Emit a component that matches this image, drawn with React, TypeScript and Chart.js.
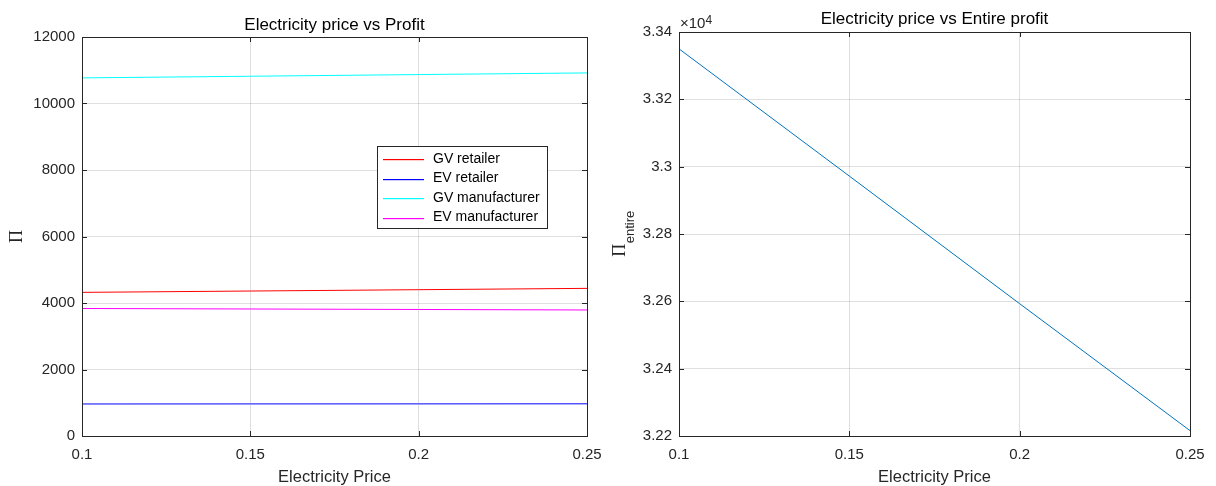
import React, { useEffect, useRef } from "react";
import { Chart, registerables } from "chart.js";

Chart.register(...registerables);

// ---------- data ----------
const electricityPrice = [0.1, 0.15, 0.2, 0.25];
const gvRetailer = [4320, 4360, 4400, 4440];
const evRetailer = [963, 965, 966, 968];
const gvManufacturer = [10770, 10820, 10870, 10920];
const evManufacturer = [3835, 3820, 3805, 3790];
const entireProfit = [33350, 32972, 32593, 32216];

const priceTicks = [0.1, 0.15, 0.2, 0.25];
const profitTicks = [0, 2000, 4000, 6000, 8000, 10000, 12000];
const entireTicks = [32200, 32400, 32600, 32800, 33000, 33200, 33400];

const seriesLabels = ["GV retailer", "EV retailer", "GV manufacturer", "EV manufacturer"];

// ---------- style ----------
const TEXT = "#262626";
const SANS = "'Liberation Sans', Arial, Helvetica, sans-serif";
const SERIF = "'Liberation Serif', 'Times New Roman', serif";
const H = 486;

const pts = (ys: number[]) => electricityPrice.map((x, i) => ({ x, y: ys[i] }));

const matlabPlugin = {
  id: "matlab",
  afterDraw(chart: any, _args: any, opts: any) {
    const { ctx, chartArea: a } = chart;
    const xs = chart.scales.x;
    const ys = chart.scales.y;
    ctx.save();
    ctx.strokeStyle = TEXT;
    ctx.lineWidth = 1;
    // inward tick marks on all four sides
    ctx.beginPath();
    xs.ticks.forEach((t: any) => {
      const px = Math.round(xs.getPixelForValue(t.value)) + 0.5;
      ctx.moveTo(px, a.bottom);
      ctx.lineTo(px, a.bottom - 5);
      ctx.moveTo(px, a.top);
      ctx.lineTo(px, a.top + 5);
    });
    ys.ticks.forEach((t: any) => {
      const py = Math.round(ys.getPixelForValue(t.value)) + 0.5;
      ctx.moveTo(a.left, py);
      ctx.lineTo(a.left + 5, py);
      ctx.moveTo(a.right, py);
      ctx.lineTo(a.right - 5, py);
    });
    ctx.stroke();
    // box
    ctx.strokeRect(
      Math.round(a.left) + 0.5,
      Math.round(a.top) + 0.5,
      Math.round(a.right - a.left),
      Math.round(a.bottom - a.top)
    );

    const cx = (a.left + a.right) / 2;
    const cy = (a.top + a.bottom) / 2;

    // title
    ctx.fillStyle = "#000";
    ctx.font = `17px ${SANS}`;
    ctx.textAlign = "center";
    ctx.textBaseline = "alphabetic";
    ctx.fillText(opts.title, cx, a.top - opts.titleGap);

    // x label
    ctx.fillStyle = TEXT;
    ctx.font = `16.5px ${SANS}`;
    ctx.fillText(opts.xLabel, cx, 482);

    // y label (rotated, Pi with optional subscript)
    ctx.save();
    ctx.translate(opts.yLabelX, cy);
    ctx.rotate(-Math.PI / 2);
    ctx.textAlign = "left";
    ctx.font = `18px ${SERIF}`;
    const mainW = ctx.measureText(opts.yLabel).width;
    let subW = 0;
    if (opts.yLabelSub) {
      ctx.font = `13px ${SANS}`;
      subW = ctx.measureText(opts.yLabelSub).width;
    }
    const start = -(mainW + subW) / 2;
    ctx.font = `18px ${SERIF}`;
    ctx.fillText(opts.yLabel, start, 0);
    if (opts.yLabelSub) {
      ctx.font = `13px ${SANS}`;
      ctx.fillText(opts.yLabelSub, start + mainW + 0.5, 9);
    }
    ctx.restore();

    // exponent label
    if (opts.exponent) {
      ctx.textAlign = "left";
      ctx.fillStyle = TEXT;
      ctx.font = `15px ${SANS}`;
      const base = "×10";
      ctx.fillText(base, a.left + 1, a.top - 4);
      const bw = ctx.measureText(base).width;
      ctx.font = `12px ${SANS}`;
      ctx.fillText(opts.exponent, a.left + 1 + bw, a.top - 8.5);
    }

    // legend
    if (opts.legend) {
      const ds = chart.data.datasets;
      ctx.font = `14px ${SANS}`;
      ctx.textAlign = "left";
      let maxW = 0;
      ds.forEach((d: any) => (maxW = Math.max(maxW, ctx.measureText(d.label).width)));
      const lx = Math.round(a.left + 295);
      const ly = Math.round(a.top + 109);
      const rowH = 19.5;
      const bw = Math.round(56 + maxW + 7);
      const bh = Math.round(ds.length * rowH + 4);
      ctx.fillStyle = "#fff";
      ctx.fillRect(lx, ly, bw, bh);
      ctx.strokeStyle = TEXT;
      ctx.lineWidth = 1;
      ctx.strokeRect(lx + 0.5, ly + 0.5, bw, bh);
      ctx.textBaseline = "middle";
      ds.forEach((d: any, i: number) => {
        const y = ly + 13 + i * rowH;
        ctx.fillStyle = d.borderColor;
        ctx.fillRect(lx + 6, Math.round(y), 41, 1.2);
        ctx.fillStyle = "#000";
        ctx.fillText(d.label, lx + 56, y);
      });
    }
    ctx.restore();
  },
};

function makeConfig(
  datasets: any[],
  yTicks: number[],
  yFormat: (v: number) => string,
  canvasW: number,
  area: { left: number; top: number; right: number; bottom: number },
  plug: any
): any {
  const tickFont = { size: 15, family: SANS };
  const grid = { color: "rgba(38,38,38,0.15)", lineWidth: 1, drawTicks: false };
  return {
    type: "line",
    data: { datasets },
    plugins: [matlabPlugin],
    options: {
      responsive: false,
      animation: false,
      events: [],
      layout: { padding: { left: 0, top: area.top, right: canvasW - area.right, bottom: 0 } },
      plugins: {
        legend: { display: false },
        title: { display: false },
        tooltip: { enabled: false },
        matlab: plug,
      },
      elements: { point: { radius: 0 }, line: { tension: 0 } },
      scales: {
        x: {
          type: "linear",
          min: priceTicks[0],
          max: priceTicks[priceTicks.length - 1],
          afterBuildTicks: (s: any) => {
            s.ticks = priceTicks.map((v) => ({ value: v }));
          },
          afterFit: (s: any) => {
            s.height = H - area.bottom;
          },
          ticks: {
            font: tickFont,
            color: TEXT,
            padding: 10,
            maxRotation: 0,
            autoSkip: false,
            callback: (v: number) => Number(v.toFixed(2)).toString(),
          },
          grid,
          border: { display: false },
        },
        y: {
          type: "linear",
          min: yTicks[0],
          max: yTicks[yTicks.length - 1],
          afterBuildTicks: (s: any) => {
            s.ticks = yTicks.map((v) => ({ value: v }));
          },
          afterFit: (s: any) => {
            s.width = area.left;
          },
          ticks: {
            font: tickFont,
            color: TEXT,
            padding: 7,
            autoSkip: false,
            callback: (v: number) => yFormat(v),
          },
          grid,
          border: { display: false },
        },
      },
    },
  };
}

const leftDatasets = [gvRetailer, evRetailer, gvManufacturer, evManufacturer].map((ys, i) => ({
  label: seriesLabels[i],
  data: pts(ys),
  borderColor: ["#ff0000", "#0000ff", "#00ffff", "#ff00ff"][i],
  borderWidth: 1,
  fill: false,
}));

const rightDatasets = [
  {
    label: "Entire profit",
    data: pts(entireProfit),
    borderColor: "#0072BD",
    borderWidth: 1,
    fill: false,
  },
];

function ChartPanel({ config, left, width }: { config: any; left: number; width: number }) {
  const ref = useRef<HTMLCanvasElement | null>(null);
  useEffect(() => {
    const chart = new Chart(ref.current as HTMLCanvasElement, config);
    return () => chart.destroy();
  }, []);
  return (
    <canvas
      ref={ref}
      width={width}
      height={H}
      style={{ position: "absolute", left, top: 0, width, height: H }}
    />
  );
}

export default function App() {
  const leftConfig = makeConfig(
    leftDatasets,
    profitTicks,
    (v) => String(v),
    640,
    { left: 82, top: 37, right: 587, bottom: 436 },
    {
      title: "Electricity price vs Profit",
      titleGap: 7,
      xLabel: "Electricity Price",
      yLabel: "Π",
      yLabelX: 22,
      legend: true,
    }
  );
  const rightConfig = makeConfig(
    rightDatasets,
    entireTicks,
    (v) => Number((v / 1e4).toFixed(2)).toString(),
    608,
    { left: 71, top: 32, right: 582, bottom: 436 },
    {
      title: "Electricity price vs Entire profit",
      titleGap: 8,
      xLabel: "Electricity Price",
      yLabel: "Π",
      yLabelSub: "entire",
      yLabelX: 17,
      exponent: "4",
    }
  );
  return (
    <div
      style={{
        position: "absolute",
        left: 0,
        top: 0,
        width: 1216,
        height: 486,
        background: "#fff",
        overflow: "hidden",
      }}
    >
      <ChartPanel config={leftConfig} left={0} width={640} />
      <ChartPanel config={rightConfig} left={608} width={608} />
    </div>
  );
}
